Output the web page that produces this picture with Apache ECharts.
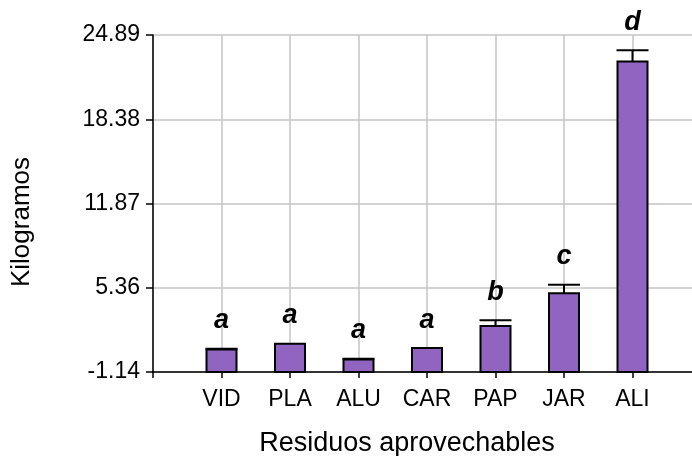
<!DOCTYPE html>
<html><head><meta charset="utf-8">
<script src="https://cdn.jsdelivr.net/npm/echarts@6/dist/echarts.min.js"></script>
<style>html,body{margin:0;padding:0;background:#fff;overflow:hidden}#c{width:692px;height:456px}</style>
</head><body><div id="c"></div>
<script>
const categories = ['VID', 'PLA', 'ALU', 'CAR', 'PAP', 'JAR', 'ALI'];
const values = [0.59, 1.05, -0.17, 0.71, 2.41, 4.95, 22.84];
const errors = [0.07, 0, 0.05, 0, 0.44, 0.65, 0.87];
const letters = ['a', 'a', 'a', 'a', 'b', 'c', 'd'];
const yTickLabels = ['-1.14', '5.36', '11.87', '18.38', '24.89'];
const AXIS_MIN = -1.14;
const AXIS_MAX = 24.89;

const FONT = '"Liberation Sans", Arial, Helvetica, sans-serif';
const chart = echarts.init(document.getElementById('c'));

const seriesData = categories.map((c, i) => [i + 1, values[i], errors[i]]);

chart.setOption({
  animation: false,
  backgroundColor: '#fff',
  grid: { left: 153, right: -9, top: 35, bottom: 84, containLabel: false, outerBoundsMode: 'none' },
  xAxis: {
    type: 'value', min: 0, max: 8, interval: 1,
    axisLine: { show: true, onZero: false, lineStyle: { color: '#000', width: 1.5 } },
    axisTick: { show: true, length: 6, lineStyle: { color: '#000', width: 1.5 } },
    splitLine: { show: true, lineStyle: { color: '#c4c4c4', width: 1.5 } },
    axisLabel: {
      margin: 16, color: '#000', fontFamily: FONT, fontSize: 23,
      formatter: v => (Number.isInteger(v) && v >= 1 && v <= categories.length) ? categories[v - 1] : ''
    }
  },
  yAxis: {
    type: 'value', min: AXIS_MIN, max: AXIS_MAX, interval: (AXIS_MAX - AXIS_MIN) / 4,
    axisLine: { show: true, onZero: false, lineStyle: { color: '#000', width: 1.5 } },
    axisTick: { show: true, length: 7, lineStyle: { color: '#000', width: 1.5 } },
    splitLine: { show: true, lineStyle: { color: '#c4c4c4', width: 1.5 } },
    axisLabel: {
      margin: 13, color: '#000', fontFamily: FONT, fontSize: 23,
      formatter: (v, idx) => yTickLabels[idx] !== undefined ? yTickLabels[idx] : ''
    }
  },
  graphic: [
    { type: 'text', x: 407, y: 443.5, style: { text: 'Residuos aprovechables', x: 0, y: 0, align: 'center', verticalAlign: 'middle', font: '27px ' + FONT, fill: '#000' } },
    { type: 'text', x: 22, y: 222, rotation: Math.PI / 2, style: { text: 'Kilogramos', x: 0, y: 0, align: 'center', verticalAlign: 'middle', font: '26px ' + FONT, fill: '#000' } }
  ],
  series: [{
    type: 'custom',
    clip: false,
    encode: { x: 0, y: 1 },
    data: seriesData,
    renderItem: function (params, api) {
      const i = params.dataIndex;
      const x = api.value(0), v = api.value(1), e = api.value(2);
      const base = api.coord([x, AXIS_MIN]);
      const top = api.coord([x, v]);
      const cap = api.coord([x, v + e]);
      const bw = 30, cw = 32;
      const children = [{
        type: 'rect',
        shape: { x: top[0] - bw / 2, y: top[1], width: bw, height: base[1] - top[1] },
        style: { fill: '#9064c0', stroke: '#000', lineWidth: 2 }
      }];
      if (e > 0) {
        children.push({ type: 'line', shape: { x1: top[0], y1: top[1], x2: top[0], y2: cap[1] }, style: { stroke: '#000', lineWidth: 2 } });
        children.push({ type: 'line', shape: { x1: top[0] - cw / 2, y1: cap[1], x2: top[0] + cw / 2, y2: cap[1] }, style: { stroke: '#000', lineWidth: 2 } });
      }
      children.push({
        type: 'text',
        style: { text: letters[i], x: top[0], y: cap[1] - 28, align: 'center', verticalAlign: 'middle', font: 'italic bold 27px ' + FONT, fill: '#000' }
      });
      return { type: 'group', children: children };
    }
  }]
});
</script></body></html>
